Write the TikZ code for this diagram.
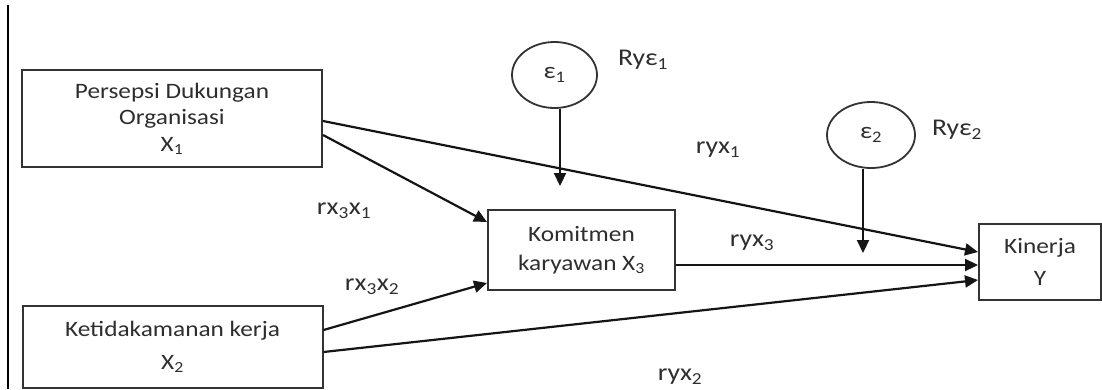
\documentclass[tikz,border=0pt]{standalone}
\usepackage{fontspec}
\setmainfont{Carlito}[FakeStretch=1.15]
\usetikzlibrary{arrows.meta,shapes.geometric}
\definecolor{boxc}{HTML}{333333}
\definecolor{linec}{HTML}{151515}
\definecolor{txt}{HTML}{2E2E2E}
\begin{document}
\begin{tikzpicture}[x=1pt,y=-1pt,
  box/.style={draw=boxc, line width=2pt, align=center, inner sep=0pt, text=txt,
    font=\fontsize{22}{26.5}\selectfont},
  ell/.style={draw=boxc, line width=1.8pt, ellipse, inner sep=0pt, text=txt,
    font=\fontsize{23}{26}\selectfont},
  arr/.style={draw=linec, line width=2.2pt, -{Triangle[length=13pt,width=12pt]}},
  lab/.style={text=txt, inner sep=0pt, font=\fontsize{24}{28}\selectfont}]
\useasboundingbox (0,0) rectangle (1102,389);
\draw[line width=1.6pt, black] (8,5) -- (8,389);

% boxes
\node[box, minimum width=300pt, minimum height=97pt] (x1) at (172,118.5)
  {Persepsi Dukungan\\Organisasi\\X\textsubscript{1}};
\node[box, minimum width=300pt, minimum height=82pt] (x2) at (172.5,347)
  {Ketidakamanan kerja\\[6pt]X\textsubscript{2}};
\node[box, minimum width=187pt, minimum height=80pt] (km) at (581.5,250)
  {Komitmen\\[3pt]karyawan X\textsubscript{3}};
\node[box, minimum width=122pt, minimum height=76pt] (ky) at (1040,262)
  {Kinerja\\[5pt]Y};

% error terms
\node[ell, minimum width=85pt, minimum height=66pt] (e1) at (554.5,75) {ε\textsubscript{1}};
\node[ell, minimum width=88pt, minimum height=66pt] (e2) at (871,135) {ε\textsubscript{2}};
\coordinate (a1) at (560,186);
\coordinate (a2) at (863,253);

% connectors
\draw[arr] ([yshift=-2.5pt]x1.east) -- ([yshift=10pt]ky.west);
\draw[arr] ([yshift=-16.5pt]x1.east) -- ([yshift=28pt]km.west);
\draw[arr] ([yshift=17pt]x2.east) -- ([yshift=-33pt]km.west);
\draw[arr] ([yshift=-15pt]km.east) -- ([yshift=-3pt]ky.west);
\draw[arr] ([yshift=-5pt]x2.east) -- ([yshift=-18pt]ky.west);
\draw[arr] (e1.south -| a1) -- (a1);
\draw[arr] (e2.south -| a2) -- (a2);

% labels
\node[lab] (l1) at (643,60) {Ryε\textsubscript{1}};
\node[lab] (l2) at (957,130) {Ryε\textsubscript{2}};
\node[lab] (l3) at (718,150) {ryx\textsubscript{1}};
\node[lab] (l4) at (752,243) {ryx\textsubscript{3}};
\node[lab] (l5) at (344,211) {rx\textsubscript{3}x\textsubscript{1}};
\node[lab] (l6) at (372,287) {rx\textsubscript{3}x\textsubscript{2}};
\node[lab] (l7) at (680,377) {ryx\textsubscript{2}};
\end{tikzpicture}
\end{document}
